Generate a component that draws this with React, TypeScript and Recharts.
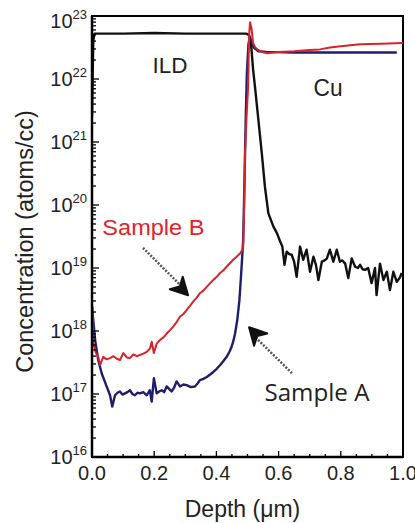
import React from 'react';
import { LineChart, Line, XAxis, YAxis, ReferenceArea, ReferenceDot, ReferenceLine } from 'recharts';

// Depth (µm) and log10(concentration, atoms/cc)
const depthB = [0.000, 0.002, 0.004, 0.012, 0.020, 0.026, 0.036, 0.047, 0.058, 0.069, 0.080, 0.090, 0.101, 0.112, 0.122, 0.133, 0.144, 0.154, 0.165, 0.176, 0.186, 0.192, 0.199, 0.208, 0.219, 0.230, 0.240, 0.250, 0.261, 0.272, 0.283, 0.294, 0.304, 0.315, 0.326, 0.337, 0.347, 0.358, 0.369, 0.380, 0.390, 0.401, 0.412, 0.422, 0.433, 0.444, 0.454, 0.465, 0.476, 0.486, 0.489, 0.492, 0.497, 0.502, 0.505, 0.508, 0.513, 0.518, 0.525, 0.534, 0.548, 0.563, 0.600, 0.650, 0.700, 0.733, 0.765, 0.800, 0.862, 0.930, 1.000];
const logB = [18.40, 18.33, 17.80, 17.66, 17.59, 17.46, 17.59, 17.55, 17.57, 17.60, 17.56, 17.54, 17.65, 17.58, 17.57, 17.63, 17.60, 17.62, 17.64, 17.67, 17.72, 17.83, 17.65, 17.80, 17.86, 17.90, 17.96, 18.01, 18.07, 18.14, 18.23, 18.27, 18.33, 18.40, 18.47, 18.53, 18.60, 18.64, 18.70, 18.76, 18.81, 18.86, 18.92, 18.96, 19.02, 19.08, 19.13, 19.18, 19.23, 19.31, 19.90, 20.83, 21.40, 21.87, 22.67, 22.90, 22.80, 22.57, 22.50, 22.46, 22.43, 22.41, 22.43, 22.44, 22.46, 22.47, 22.50, 22.52, 22.55, 22.56, 22.57];

const depthA = [0.000, 0.002, 0.010, 0.020, 0.031, 0.047, 0.058, 0.065, 0.074, 0.082, 0.090, 0.098, 0.106, 0.114, 0.122, 0.130, 0.138, 0.146, 0.154, 0.165, 0.176, 0.186, 0.192, 0.199, 0.208, 0.216, 0.224, 0.232, 0.240, 0.248, 0.256, 0.264, 0.272, 0.283, 0.294, 0.304, 0.318, 0.331, 0.340, 0.347, 0.358, 0.369, 0.380, 0.390, 0.401, 0.412, 0.422, 0.433, 0.442, 0.449, 0.455, 0.460, 0.467, 0.474, 0.479, 0.483, 0.486, 0.490, 0.494, 0.498, 0.503, 0.507, 0.512, 0.520, 0.535, 0.560, 0.650, 0.800, 0.980];
const logA = [18.40, 18.28, 17.86, 17.54, 17.33, 17.12, 16.98, 16.80, 16.98, 17.02, 17.04, 16.99, 17.01, 17.03, 17.06, 17.00, 16.98, 17.02, 17.01, 17.03, 16.98, 17.06, 16.88, 17.25, 17.01, 17.04, 17.06, 17.03, 17.12, 17.08, 17.04, 17.10, 17.20, 17.12, 17.15, 17.14, 17.11, 17.12, 17.17, 17.22, 17.24, 17.27, 17.31, 17.35, 17.40, 17.46, 17.52, 17.59, 17.67, 17.75, 17.85, 17.96, 18.17, 18.49, 18.86, 19.18, 19.44, 20.30, 21.30, 22.10, 22.55, 22.66, 22.60, 22.50, 22.44, 22.43, 22.42, 22.42, 22.42];

const depthK = [0.000, 0.002, 0.004, 0.008, 0.100, 0.200, 0.300, 0.400, 0.495, 0.505, 0.510, 0.514, 0.518, 0.524, 0.535, 0.546, 0.556, 0.567, 0.583, 0.595, 0.605, 0.612, 0.619, 0.626, 0.634, 0.642, 0.650, 0.658, 0.669, 0.679, 0.690, 0.701, 0.712, 0.720, 0.728, 0.739, 0.748, 0.755, 0.765, 0.776, 0.787, 0.797, 0.805, 0.814, 0.824, 0.835, 0.846, 0.855, 0.862, 0.870, 0.878, 0.888, 0.899, 0.910, 0.915, 0.926, 0.937, 0.948, 0.958, 0.969, 0.980, 0.990, 0.996];
const logK = [21.40, 22.00, 22.60, 22.72, 22.72, 22.73, 22.72, 22.72, 22.72, 22.70, 22.62, 22.40, 22.15, 21.88, 21.35, 20.82, 20.29, 19.87, 19.66, 19.55, 19.42, 19.34, 19.05, 19.26, 19.22, 19.21, 19.10, 18.86, 19.34, 19.13, 19.29, 18.94, 19.18, 19.05, 18.81, 19.10, 19.12, 19.15, 19.29, 19.10, 19.29, 19.10, 19.12, 19.07, 18.84, 19.15, 19.02, 19.00, 19.05, 18.98, 18.97, 19.00, 18.76, 19.00, 18.57, 19.07, 18.81, 18.94, 18.65, 18.94, 18.78, 18.85, 18.92];

const xMajorTicks = [0, 0.2, 0.4, 0.6, 0.8, 1.0];
const xMinorTicks = [0.05, 0.1, 0.15, 0.25, 0.3, 0.35, 0.45, 0.5, 0.55, 0.65, 0.7, 0.75, 0.85, 0.9, 0.95];
const yDecades = [16, 17, 18, 19, 20, 21, 22, 23];
const yMantissas = [1, 2, 3, 4, 5, 6, 7, 8, 9];

const toRows = (d: number[], l: number[]) => d.map((x, i) => ({ d: x, c: Math.pow(10, l[i]) }));
const dataB = toRows(depthB, logB);
const dataA = toRows(depthA, logA);
const dataK = toRows(depthK, logK);

const xTicks = [...xMajorTicks, ...xMinorTicks].sort((a, b) => a - b);
const yTicks: number[] = [];
yDecades.forEach((e) => {
  if (e === 23) yTicks.push(1e23);
  else yMantissas.forEach((m) => yTicks.push(m * Math.pow(10, e)));
});

const FONT = "'Liberation Sans', Arial, Helvetica, sans-serif";

const XTick = (props: any) => {
  const { x, y, payload } = props;
  const v = payload.value;
  const major = xMajorTicks.some((t) => Math.abs(t - v) < 1e-9);
  return (
    <g>
      <line x1={x} x2={x} y1={y} y2={y - (major ? 6 : 3)} stroke="#000" strokeWidth={1.3} />
      {major && (
        <text x={x} y={y + 23} textAnchor="middle" fontFamily={FONT} fontSize={20} fill="#222">
          {v.toFixed(1)}
        </text>
      )}
    </g>
  );
};

const YTick = (props: any) => {
  const { x, y, payload } = props;
  const v = payload.value;
  const lg = Math.log10(v);
  const major = Math.abs(lg - Math.round(lg)) < 1e-6;
  const shift = Math.round(lg) === 23 ? 5 : 0;
  return (
    <g>
      <line x1={x} x2={x + (major ? 7 : 4)} y1={y} y2={y} stroke="#000" strokeWidth={1.3} />
      {major && (
        <text x={x - 5} y={y + 7 + shift} textAnchor="end" fontFamily={FONT} fontSize={20} fill="#222">
          10
          <tspan fontSize={13} dy={-9}>{Math.round(lg)}</tspan>
        </text>
      )}
    </g>
  );
};

const textLabel = (txt: string, size: number, fill: string, family: string, len: number) => (props: any) => {
  const vb = props.viewBox;
  if (!vb) return null;
  return (
    <text x={vb.x} y={vb.y} fontFamily={family} fontSize={size} fill={fill} textLength={len} lengthAdjust="spacingAndGlyphs">
      {txt}
    </text>
  );
};

const arrowHead = (angle: number) => (props: any) => (
  <polygon
    points="0,0 -17,-9 -12,0 -17,9"
    transform={`translate(${props.cx},${props.cy}) rotate(${angle})`}
    fill="#111"
    stroke="#111"
    strokeWidth={2}
    strokeLinejoin="round"
  />
);

const YTitle = (props: any) => {
  const vb = props.viewBox;
  if (!vb) return null;
  const cx = vb.x + 33;
  const cy = vb.y + vb.height / 2 + 5;
  return (
    <text x={cx} y={cy} transform={`rotate(-90, ${cx}, ${cy})`} textAnchor="middle" fontFamily={FONT} fontSize={23.5} fill="#222">
      Concentration (atoms/cc)
    </text>
  );
};

const XTitle = (props: any) => {
  const vb = props.viewBox;
  if (!vb) return null;
  return (
    <text x={vb.x + vb.width / 2 - 5} y={vb.y + 60} textAnchor="middle" fontFamily={FONT} fontSize={23} fill="#222">
      Depth (μm)
    </text>
  );
};

export default function App() {
  return (
    <div>
      <style>{'html,body{margin:0;padding:0;overflow:hidden;background:#fff}'}</style>
      <LineChart width={415} height={523} margin={{ top: 16, right: 12, left: 0, bottom: 0 }}>
        <XAxis
          type="number"
          dataKey="d"
          domain={[0, 1]}
          ticks={xTicks}
          interval={0}
          tickSize={0}
          tickMargin={0}
          tickLine={false}
          tick={<XTick />}
          axisLine={{ stroke: '#000', strokeWidth: 2.5 }}
          height={66}
          allowDataOverflow
          label={{ content: XTitle } as any}
        />
        <YAxis
          scale="log"
          type="number"
          domain={[1e16, 1e23]}
          ticks={yTicks}
          interval={0}
          tickSize={0}
          tickMargin={0}
          tickLine={false}
          tick={<YTick />}
          axisLine={{ stroke: '#000', strokeWidth: 2.5 }}
          width={92}
          allowDataOverflow
          label={{ content: YTitle } as any}
        />
        <ReferenceArea x1={0} x2={1} y1={1e16} y2={1e23} fill="none" fillOpacity={0} stroke="#000" strokeWidth={2} />
        <Line data={dataK} dataKey="c" type="linear" stroke="#111" strokeWidth={2.4} dot={false} isAnimationActive={false} strokeLinejoin="round" />
        <Line data={dataA} dataKey="c" type="linear" stroke="#1f1d6e" strokeWidth={2.4} dot={false} isAnimationActive={false} strokeLinejoin="round" />
        <Line data={dataB} dataKey="c" type="linear" stroke="#d8232b" strokeWidth={2} dot={false} isAnimationActive={false} strokeLinejoin="round" />

        <ReferenceLine segment={[{ x: 0.164, y: 2.09e19 }, { x: 0.29, y: 5.0e18 }]} stroke="#555" strokeWidth={2.5} strokeDasharray="2 1.5" />
        <ReferenceDot x={0.309} y={3.7e18} r={1} shape={arrowHead(46)} />
        <ReferenceLine segment={[{ x: 0.643, y: 2.14e17 }, { x: 0.525, y: 8.0e17 }]} stroke="#555" strokeWidth={2.5} strokeDasharray="2 1.5" />
        <ReferenceDot x={0.505} y={1.15e18} r={1} shape={arrowHead(227)} />

        <ReferenceDot x={0.196} y={1.24e22} r={0.5} fill="none" stroke="none" label={textLabel('ILD', 22, '#222', FONT, 35)} />
        <ReferenceDot x={0.714} y={5.2e21} r={0.5} fill="none" stroke="none" label={textLabel('Cu', 23, '#222', FONT, 29)} />
        <ReferenceDot x={0.035} y={3.34e19} r={0.5} fill="none" stroke="none" label={textLabel('Sample B', 22, '#e3222b', FONT, 102)} />
        <ReferenceDot x={0.556} y={7.74e16} r={0.5} fill="none" stroke="none" label={textLabel('Sample A', 24, '#222', "'Open Sans', sans-serif", 105)} />
      </LineChart>
    </div>
  );
}
